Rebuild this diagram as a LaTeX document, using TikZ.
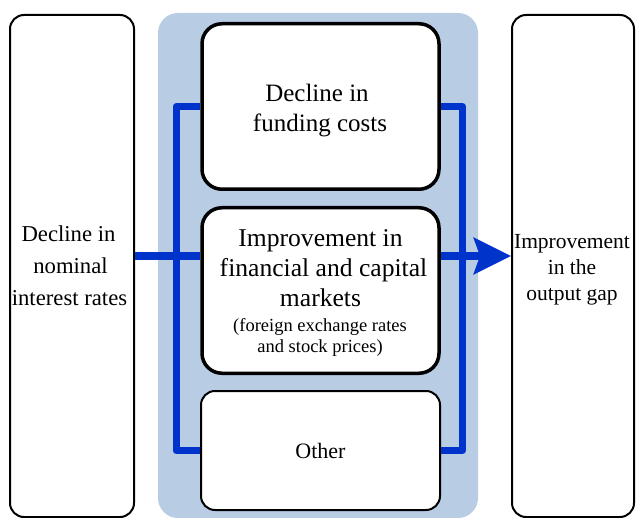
\documentclass[tikz,border=0pt]{standalone}
\usepackage{fontspec}
\setmainfont{Liberation Serif}
\usetikzlibrary{arrows.meta}
\definecolor{bgblue}{RGB}{184,204,228}
\definecolor{lineblue}{RGB}{0,51,204}
\begin{document}
\begin{tikzpicture}[x=1pt,y=-1pt,
  box/.style={draw=black, fill=white, rounded corners=14pt, line width=2pt, inner sep=0pt},
  thickbox/.style={box, line width=3.5pt, rounded corners=20pt},
  link/.style={draw=lineblue, line width=7.5pt, line join=round},
  txt/.style={anchor=base, inner sep=0pt},
  bigtxt/.style={txt, font=\fontsize{25}{30}\selectfont},
  midbig/.style={txt, font=\fontsize{25.6}{30}\selectfont},
  medtxt/.style={txt, font=\fontsize{22.7}{26}\selectfont},
  righttxt/.style={txt, font=\fontsize{21.5}{26}\selectfont},
  othertxt/.style={txt, font=\fontsize{22}{26}\selectfont},
  smalltxt/.style={txt, font=\fontsize{18.5}{21}\selectfont}]
\useasboundingbox (0,0) rectangle (636,518);
% background panel
\fill[bgblue, rounded corners=20pt] (158,13) rectangle (478,518);
% outer boxes
\node[box, minimum width=124pt, minimum height=502pt] (left) at (72,266) {};
\node[box, minimum width=122pt, minimum height=502pt] (right) at (573,266) {};
% inner boxes
\node[thickbox, minimum width=237pt, minimum height=165.5pt] (top) at (320.5,106.5) {};
\node[thickbox, minimum width=237pt, minimum height=165.5pt] (mid) at (320.5,290.5) {};
\node[box, minimum width=239pt, minimum height=119pt] (other) at (320.5,450.5) {};
% texts
\node[medtxt] (l1) at (68.5,242) {Decline in};
\node[medtxt] (l2) at (70.5,273.5) {nominal};
\node[medtxt] (l3) at (69.5,305) {interest rates};
\node[righttxt] (r1) at (572,248) {Improvement};
\node[righttxt] (r2) at (572,274) {in the};
\node[righttxt] (r3) at (572,300) {output gap};
\node[bigtxt] (t1) at (317,101.5) {Decline in};
\node[bigtxt] (t2) at (320,132) {funding costs};
\node[midbig] (m1) at (320.5,246.7) {Improvement in};
\node[midbig] (m2) at (323.5,276.7) {financial and capital};
\node[midbig] (m3) at (320.5,306.7) {markets};
\node[smalltxt] (m4) at (320,331) {(foreign exchange rates};
\node[smalltxt] (m5) at (320,352) {and stock prices)};
\node[othertxt] (o1) at (320.5,458.5) {Other};
% connectors
\coordinate (ay) at (0,256);
\draw[link] (left.east |- ay) -- (mid.west |- ay);
\draw[link] (top.west) -- ++(-24,0) |- (other.west);
\draw[link] (top.east) -- ++(21.5,0) |- (other.east);
\draw[link, -{Stealth[length=37pt,width=36pt,inset=6pt]}] (mid.east |- ay) -- (right.west |- ay);
\end{tikzpicture}
\end{document}
